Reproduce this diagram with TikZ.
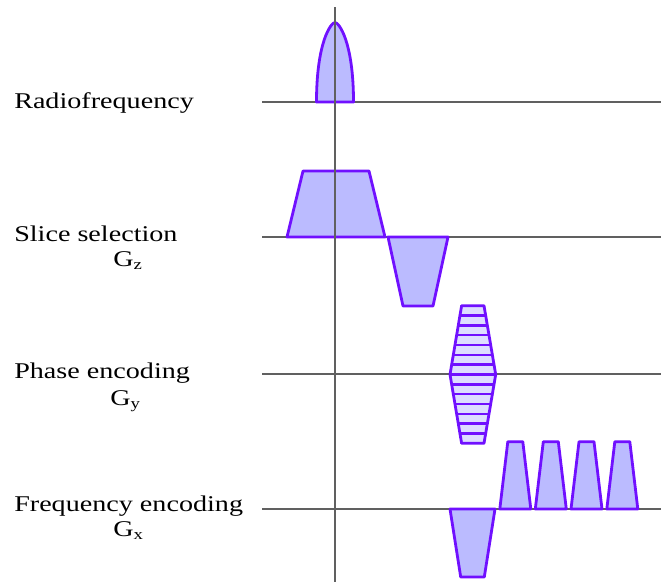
\documentclass[tikz,border=0pt]{standalone}
\usepackage{fontspec}
\setmainfont{Liberation Serif}
\definecolor{pstroke}{RGB}{112,16,255}
\definecolor{pfill}{RGB}{187,187,255}
\definecolor{pfilllight}{RGB}{221,221,255}
\definecolor{axisgray}{RGB}{96,96,96}
\tikzset{
  lobe/.style={draw=pstroke, fill=pfill, line width=2.8pt, line join=round},
  lobelight/.style={draw=pstroke, fill=pfilllight, line width=2.8pt, line join=round},
  stripe/.style={draw=pstroke, line width=2.6pt},
  axisline/.style={draw=axisgray, line width=1.6pt},
  lbl/.style={anchor=base west, inner sep=0pt, xscale=1.25, font=\fontsize{22.5}{27}\selectfont},
}
\newcommand{\subtxt}[1]{{\fontsize{15}{15}\selectfont\raisebox{-3pt}{#1}}}
\begin{document}
\begin{tikzpicture}[x=1pt,y=-1pt]
\useasboundingbox (0,0) rectangle (661,582);
% horizontal axes
\coordinate (rfL) at (262,102); \coordinate (rfR) at (661,102);
\coordinate (ssL) at (262,237); \coordinate (ssR) at (661,237);
\coordinate (peL) at (262,374); \coordinate (peR) at (661,374);
\coordinate (feL) at (262,509); \coordinate (feR) at (661,509);
\coordinate (vT) at (335,7); \coordinate (vB) at (335,582);
\draw[axisline] (rfL) -- (rfR);
\draw[axisline] (ssL) -- (ssR);
\draw[axisline] (peL) -- (peR);
\draw[axisline] (feL) -- (feR);
% RF pulse
\draw[lobe] (316.5,102) .. controls (316.5,42) and (331,22.5) .. (335,22.5)
  .. controls (339,22.5) and (353.5,42) .. (353.5,102) -- cycle;
% slice selection
\draw[lobe] (287,237) -- (303,171) -- (369,171) -- (385,237) -- cycle;
\draw[lobe] (388,237) -- (448,237) -- (433,306) -- (403,306) -- cycle;
% phase encoding
\draw[lobelight] (461.6,305.7) -- (484,305.7) -- (495.7,374.5) -- (484,443.3) -- (461.6,443.3) -- (450,374.5) -- cycle;
\foreach \k in {1,...,13}{
  \pgfmathsetmacro{\yy}{305.7+\k*9.83}
  \pgfmathsetmacro{\hw}{11.2+11.65*(1-abs(\yy-374.5)/68.8)}
  \draw[stripe] ({472.8-\hw},\yy) -- ({472.8+\hw},\yy);
}
% frequency encoding
\draw[lobe] (450,509) -- (495,509) -- (484.3,577) -- (460.7,577) -- cycle;
\foreach \c in {515.3,550.8,586.5,622.3}{
  \draw[lobe] ({\c-15.5},509) -- ({\c-7.5},441.7) -- ({\c+7.5},441.7) -- ({\c+15.5},509) -- cycle;
}
% vertical axis
\draw[axisline] (vT) -- (vB);
% labels
\node[lbl] (rf) at (14,108) {Radiofrequency};
\node[lbl] (ss) at (14,241.5) {Slice selection};
\node[lbl] (gz) at (113,266) {G\subtxt{z}};
\node[lbl] (pe) at (14,378) {Phase encoding};
\node[lbl] (gy) at (110,405) {G\subtxt{y}};
\node[lbl] (fe) at (14,511.5) {Frequency encoding};
\node[lbl] (gx) at (113,536.5) {G\subtxt{x}};
\end{tikzpicture}
\end{document}
